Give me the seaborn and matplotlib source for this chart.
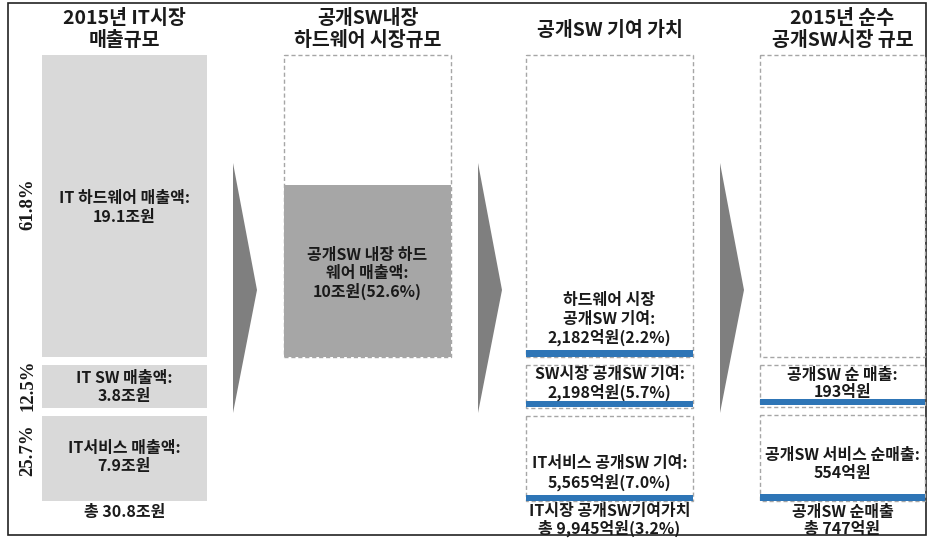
import matplotlib
matplotlib.use("Agg")
import matplotlib.pyplot as plt
import seaborn as sns

sns.set_theme(style="white")
plt.rcParams['font.family'] = ['Noto Sans CJK KR', 'DejaVu Sans']

# ---------------- data ----------------
titles = [["2015년 IT시장", "매출규모"],
          ["공개SW내장", "하드웨어 시장규모"],
          ["공개SW 기여 가치"],
          ["2015년 순수", "공개SW시장 규모"]]

it_labels = ["IT 하드웨어 매출액:", "IT SW 매출액:", "IT서비스 매출액:"]
it_values = ["19.1조원", "3.8조원", "7.9조원"]
it_shares = ["61.8%", "12.5%", "25.7%"]
it_total = "총 30.8조원"

hw_lines = ["공개SW 내장 하드", "웨어 매출액:", "10조원(52.6%)"]

contrib_lines = [["하드웨어 시장", "공개SW 기여:", "2,182억원(2.2%)"],
                 ["SW시장 공개SW 기여:", "2,198억원(5.7%)"],
                 ["IT서비스 공개SW 기여:", "5,565억원(7.0%)"]]
contrib_total = ["IT시장 공개SW기여가치", "총 9,945억원(3.2%)"]

net_lines = [[],
             ["공개SW 순 매출:", "193억원"],
             ["공개SW 서비스 순매출:", "554억원"]]
net_total = ["공개SW 순매출", "총 747억원"]

# ---------------- layout ----------------
W, H = 928, 545
fig = plt.figure(figsize=(W / 100, H / 100), dpi=100)
ax = fig.add_axes([0, 0, 1, 1])
ax.set_xlim(0, W)
ax.set_ylim(H, 0)
ax.axis("off")

col_x = [(42, 207), (284, 451), (526, 693), (760, 925)]
seg_y = [(55, 357), (365, 408), (416, 501)]
light = "#d9d9d9"
dark = "#a6a6a6"
blue = "#2e75b6"
dash_c = "#a6a6a6"
txt = "#1a1a1a"
BODY = 11.5
TITLE = 14

def cx(i):
    return (col_x[i][0] + col_x[i][1]) / 2

def cw(i):
    return col_x[i][1] - col_x[i][0]

def box(i, top, bot, **kw):
    ax.bar(cx(i), bot - top, bottom=top, width=cw(i), align="center", **kw)

def lines(x, ys, strs, size=BODY):
    for y, s in zip(ys, strs):
        ax.text(x, y, s, ha="center", va="center", fontsize=size,
                fontweight="bold", color=txt)

# outer frame
ax.add_patch(plt.Rectangle((8, 3), 918, 532, fill=False, edgecolor="#222222", lw=1.2))

# titles
title_y2 = [18, 41]
for i, t in enumerate(titles):
    if len(t) == 1:
        lines(cx(i), [30], t, size=TITLE)
    else:
        lines(cx(i), title_y2, t, size=TITLE)

# column 1
for k, (top, bot) in enumerate(seg_y):
    box(0, top, bot, color=light, linewidth=0)
share_y = [204, 385, 450]
for s, y in zip(it_shares, share_y):
    ax.text(28, y, s, rotation=90, ha="center", va="center", fontsize=13.5,
            fontweight="bold", family="Liberation Serif", color=txt)
lines(cx(0), [198, 217], [it_labels[0], it_values[0]])
lines(cx(0), [378, 396], [it_labels[1], it_values[1]])
lines(cx(0), [448, 466], [it_labels[2], it_values[2]])
lines(cx(0), [512], [it_total])

# column 2
box(1, 55, 357, fill=False, edgecolor=dash_c, linestyle=(0, (3, 2)), linewidth=1)
box(1, 185, 357, color=dark, linewidth=0)
lines(cx(1), [255, 273, 291], hw_lines)

# column 3
for k, (top, bot) in enumerate(seg_y):
    box(2, top, bot, fill=False, edgecolor=dash_c, linestyle=(0, (3, 2)), linewidth=1)
box(2, 350, 357, color=blue, linewidth=0)
box(2, 401, 407, color=blue, linewidth=0)
box(2, 495, 501, color=blue, linewidth=0)
lines(cx(2), [300, 319, 337], contrib_lines[0])
lines(cx(2), [374, 392], contrib_lines[1])
lines(cx(2), [463, 482], contrib_lines[2])
lines(cx(2), [511, 528], contrib_total)

# column 4
seg4 = [(55, 357), (365, 407), (415, 501)]
for top, bot in seg4:
    box(3, top, bot, fill=False, edgecolor=dash_c, linestyle=(0, (3, 2)), linewidth=1)
box(3, 399, 405, color=blue, linewidth=0)
box(3, 494, 501, color=blue, linewidth=0)
lines(cx(3), [375, 392], net_lines[1])
lines(cx(3), [455, 473], net_lines[2])
lines(cx(3), [512, 529], net_total)

# arrows
for x0 in [233, 478, 720]:
    ax.fill([x0, x0 + 24, x0], [163, 290, 413], color="#7f7f7f", linewidth=0)

fig.savefig("out.png", dpi=100)
